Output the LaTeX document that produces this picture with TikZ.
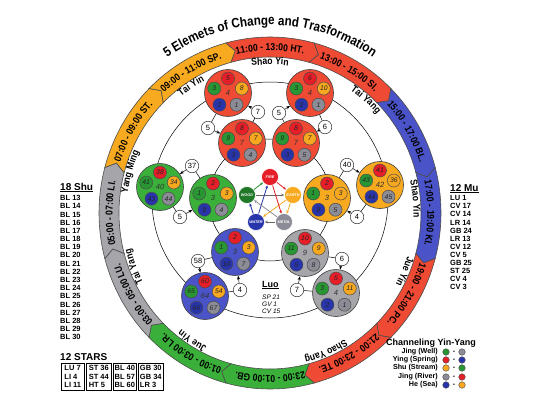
\documentclass[tikz,border=0pt]{standalone}
\usepackage{fontspec}
\setmainfont{Liberation Sans}
\newfontfamily\nar[FakeStretch=0.86]{Liberation Sans}
\usetikzlibrary{decorations.text,calc,arrows.meta}
\definecolor{ringred}{RGB}{238,74,52}
\definecolor{ringorange}{RGB}{247,170,32}
\definecolor{ringblue}{RGB}{74,84,200}
\definecolor{ringgreen}{RGB}{58,176,58}
\definecolor{ringgray}{RGB}{165,165,170}
\definecolor{bred}{RGB}{230,30,40}
\definecolor{borange}{RGB}{247,168,30}
\definecolor{bgreen}{RGB}{40,150,50}
\definecolor{bblue}{RGB}{40,52,170}
\definecolor{bgray}{RGB}{140,140,150}
\newcommand\ringfont{\nar\bfseries\fontsize{10}{10}\selectfont}
\newcommand\labfont{\nar\bfseries\fontsize{10}{10}\selectfont}
\newcommand\titlefont{\nar\bfseries\fontsize{13.5}{13.5}\selectfont}
\newcommand\seg[3]{%
 \filldraw[segline, fill=#2] (#1+15:171 and 176) arc[start angle=#1+15, end angle=#1-15, x radius=171, y radius=176] -- (#1-17.5:161 and 166) -- (#1-15:151 and 156) arc[start angle=#1-15, end angle=#1+15, x radius=151, y radius=156] -- (#1+12.5:161 and 166) -- cycle;
 \path[decorate, decoration={text along path, text={|\ringfont|#3}, text align=center}] (#1+15:157.4 and 162.4) arc[start angle=#1+15, end angle=#1-15, x radius=157.4, y radius=162.4];
}
\newcommand\inlab[2]{\path[decorate, decoration={text along path, text={|\labfont|#2}, text align=center}] (#1+25:143.5 and 148.5) arc[start angle=#1+25, end angle=#1-25, x radius=143.5, y radius=148.5];}
\newcommand\clus[9]{%
 \node[cl, fill=#3] (#1) at (#2) {};
 \node[cnum] (#1c) at (#1) {#4};
 \node[ball, fill=bred] (#1r) at ($(#1)+(90:14.5)$) {#5};
 \node[ball, fill=borange] (#1o) at ($(#1)+(18:14.5)$) {#6};
 \node[ball, fill=bgreen] (#1g) at ($(#1)+(162:14.5)$) {#7};
 \node[ball, fill=bblue] (#1b) at ($(#1)+(234:14.5)$) {#8};
 \node[ball, fill=bgray] (#1y) at ($(#1)+(306:14.5)$) {#9};
}
\tikzset{
 segline/.style={draw=black!70, line width=0.6pt},
 cl/.style={circle, draw=black!75, line width=0.6pt, minimum size=47pt, inner sep=0pt},
 cnum/.style={font=\fontsize{7.5}{8}\selectfont\itshape, text=black!80, inner sep=0pt},
 ball/.style={circle, draw=black!70, line width=0.5pt, minimum size=13pt, inner sep=0pt, font=\fontsize{6.8}{7}\selectfont\itshape, text=black!85},
 lab/.style={circle, draw=black!80, fill=white, line width=0.5pt, minimum size=13.5pt, inner sep=0pt, font=\fontsize{7.5}{7.5}\selectfont},
 conn/.style={draw=black, line width=0.5pt},
 arr/.style={conn, -{Stealth[length=4pt,width=3pt]}},
 elem/.style={circle, minimum size=17pt, inner sep=0pt, draw=white, line width=0.6pt, font=\fontsize{3.8}{4}\selectfont\bfseries\itshape, text=white},
 earr/.style={line width=0.8pt, -{Stealth[length=3pt,width=2.6pt]}},
 lst/.style={font=\fontsize{7.5}{8}\selectfont\bfseries, inner sep=0pt},
 hdr/.style={font=\fontsize{10}{10}\selectfont\bfseries, inner sep=0pt},
 dot/.style={circle, draw=black!70, line width=0.4pt, minimum size=6.6pt, inner sep=0pt},
 starbox/.style={draw=black, line width=0.6pt, align=left, inner sep=1pt, font=\fontsize{7.5}{8.6}\selectfont\bfseries}
}
\begin{document}
\begin{tikzpicture}[x=1pt,y=1pt]
\useasboundingbox (0,0) rectangle (540,400);
\fill[white] (0,0) rectangle (540,400);
\begin{scope}[shift={(270,187)}]
\seg{90}{ringred}{11:00 - 13:00 HT.}
\seg{60}{ringred}{13:00 - 15:00 SI.}
\seg{30}{ringblue}{15:00 - 17:00 BL.}
\seg{0}{ringblue}{17:00 - 19:00 KI.}
\seg{-30}{ringred}{19:00 - 21:00 PC.}
\seg{-60}{ringred}{21:00 - 23:00 TE.}
\seg{-90}{ringgreen}{23:00 - 01:00 GB.}
\seg{-120}{ringgreen}{01:00 - 03:00 LR.}
\seg{-150}{ringgray}{03:00 - 05:00 LU.}
\seg{180}{ringgray}{05:00 - 07:00 LI.}
\seg{150}{ringorange}{07:00 - 09:00 ST.}
\seg{120}{ringorange}{09:00 - 11:00 SP.}
\path[decorate, decoration={text along path, text={|\titlefont|5 Elemets of Change and Trasformation}, text align=center}] (150:183 and 188) arc[start angle=150, end angle=30, x radius=183, y radius=188];
\inlab{90}{Shao Yin}
\inlab{122.5}{Tai Yin}
\inlab{49}{Tai Yang}
\inlab{164}{Yang Ming}
\inlab{201}{Tai Yang}
\inlab{238}{Jue Yin}
\inlab{-67.5}{Shao Yang}
\inlab{-23}{Jue Yin}
\inlab{5.4}{Shao Yin}
\end{scope}
% thin circles
\draw[conn] (270,200) circle[radius=118];
\draw[conn] (270,200) circle[radius=61];
% clusters
\clus{A1}{228,307}{ringred}{4}{5}{8}{3}{2}{1}
\clus{A2}{242,257}{ringred}{7}{8}{7}{9}{3}{4}
\clus{B1}{310,307}{ringred}{4}{6}{10}{3}{2}{1}
\clus{B2}{296,257}{ringred}{7}{8}{7}{9}{3}{5}
\clus{G1}{160,213}{ringgreen}{40}{38}{34}{41}{43}{44}
\clus{G2}{213,202}{ringgreen}{3}{2}{3}{1}{8}{4}
\clus{O1}{327,202}{ringorange}{3}{2}{3}{1}{9}{5}
\clus{O2}{380,215}{ringorange}{42}{41}{36}{43}{44}{45}
\clus{W1}{235,148}{ringblue}{3}{2}{3}{1}{10}{7}
\clus{W2}{205,104}{ringblue}{64}{60}{54}{65}{66}{67}
\clus{M1}{305,147}{ringgray}{9}{10}{9}{11}{5}{8}
\clus{M2}{336,107}{ringgray}{4}{5}{11}{3}{2}{1}
% connector labels
\node[lab] (a5) at (208,272) {5};
\node[lab] (a7) at (258,288) {7};
\node[lab] (b5) at (279,287) {5};
\node[lab] (b6) at (325,273) {6};
\node[lab] (g37) at (192,234) {37};
\node[lab] (g5) at (180,183) {5};
\node[lab] (o40) at (347,235) {40};
\node[lab] (o4) at (357,183) {4};
\node[lab] (w58) at (198,139) {58};
\node[lab] (w4) at (240,110) {4};
\node[lab] (m6) at (342,141) {6};
\node[lab] (m7) at (297,110) {7};
\draw[conn] (A1) -- (a5); \draw[arr] (a5) -- (A2);
\draw[conn] (A2) -- (a7); \draw[arr] (a7) -- (A1);
\draw[conn] (B2) -- (b5); \draw[arr] (b5) -- (B1);
\draw[conn] (B1) -- (b6); \draw[arr] (b6) -- (B2);
\draw[conn] (G2) -- (g37); \draw[arr] (g37) -- (G1);
\draw[conn] (G1) -- (g5); \draw[arr] (g5) -- (G2);
\draw[conn] (O1) -- (o40); \draw[arr] (o40) -- (O2);
\draw[conn] (O2) -- (o4); \draw[arr] (o4) -- (O1);
\draw[conn] (W1) -- (w58); \draw[arr] (w58) -- (W2);
\draw[conn] (W2) -- (w4); \draw[arr] (w4) -- (W1);
\draw[conn] (M1) -- (m6); \draw[arr] (m6) -- (M2);
\draw[conn] (M2) -- (m7); \draw[arr] (m7) -- (M1);
% five elements
\node[elem, fill=bred] (fire) at (270,223) {FIRE};
\node[elem, fill=bgreen!80!black] (wood) at (247,205) {WOOD};
\node[elem, fill=ringorange] (earth) at (293,205) {EARTH};
\node[elem, fill=bblue] (water) at (256,178) {WATER};
\node[elem, fill=bgray] (metal) at (284,178) {METAL};
\draw[earr, draw=bgreen] (wood) -- (fire);
\draw[earr, draw=bred] (fire) -- (earth);
\draw[earr, draw=ringorange] (earth) -- (metal);
\draw[earr, draw=black!60] (metal) -- (water);
\draw[earr, draw=bblue] (water) -- (wood);
\draw[earr, draw=black!60] (wood) -- (earth);
\draw[earr, draw=ringorange] (earth) -- (water);
\draw[earr, draw=bblue] (water) -- (fire);
\draw[earr, draw=bred] (fire) -- (metal);
\draw[earr, draw=bgray] (metal) -- (wood);
% Luo
\node[font=\fontsize{9}{9}\selectfont\bfseries, anchor=base west, inner sep=0pt] (luo) at (262,113) {\underline{Luo}};
\node[font=\fontsize{6.5}{7}\selectfont\itshape, anchor=base west, inner sep=0pt] (luo1) at (262,101) {SP 21};
\node[font=\fontsize{6.5}{7}\selectfont\itshape, anchor=base west, inner sep=0pt] (luo2) at (262,94) {GV 1};
\node[font=\fontsize{6.5}{7}\selectfont\itshape, anchor=base west, inner sep=0pt] (luo3) at (262,87) {CV 15};
% 18 Shu
\node[hdr, anchor=base west] (shu) at (60,210) {\underline{18 Shu}};
\foreach \n [count=\i] in {13,...,30} {\node[lst, anchor=base west] (shu\i) at (60,{199.3-(\i-1)*8.18}) {BL \n};}
% 12 Mu
\node[hdr, anchor=base west] (mu) at (450,209) {\underline{12 Mu}};
\foreach \t [count=\i] in {LU 1,CV 17,CV 14,LR 14,GB 24,LR 13,CV 12,CV 5,GB 25,ST 25,CV 4,CV 3} {\node[lst, anchor=base west] (mu\i) at (450,{199.3-(\i-1)*8.1}) {\t};}
% 12 stars
\node[hdr, anchor=base west] (stars) at (60,40) {12 STARS};
\node[starbox, minimum width=23pt, minimum height=27pt, anchor=west] (st1) at (61,23.5) {LU 7\\LI 4\\LI 11};
\node[starbox, minimum width=25pt, minimum height=27pt, anchor=west] (st2) at (86,23.5) {ST 36\\ST 44\\HT 5};
\node[starbox, minimum width=23pt, minimum height=27pt, anchor=west] (st3) at (113,23.5) {BL 40\\BL 57\\BL 60};
\node[starbox, minimum width=25pt, minimum height=27pt, anchor=west] (st4) at (138,23.5) {GB 30\\GB 34\\LR 3};
% channeling
\node[font=\fontsize{9}{9}\selectfont\bfseries, anchor=base, inner sep=0pt] (ch) at (431,54.5) {Channeling Yin-Yang};
\foreach \t/\y/\ca/\cb [count=\i] in {Jing (Well)/48/bgreen/bgray, Ying (Spring)/40/bred/bblue, Shu (Stream)/32/borange/bgreen, Jing (River)/23/bgray/bred, He (Sea)/15/bblue/borange} {
 \node[font=\fontsize{7.2}{7.5}\selectfont\bfseries, anchor=east, inner sep=0pt] (chl\i) at (438,\y) {\t};
 \node[dot, fill=\ca] (cha\i) at (446,\y) {};
 \node[font=\fontsize{7}{7}\selectfont\bfseries, inner sep=0pt] (chd\i) at (454,\y) {-};
 \node[dot, fill=\cb] (chb\i) at (462,\y) {};
}
\end{tikzpicture}
\end{document}
